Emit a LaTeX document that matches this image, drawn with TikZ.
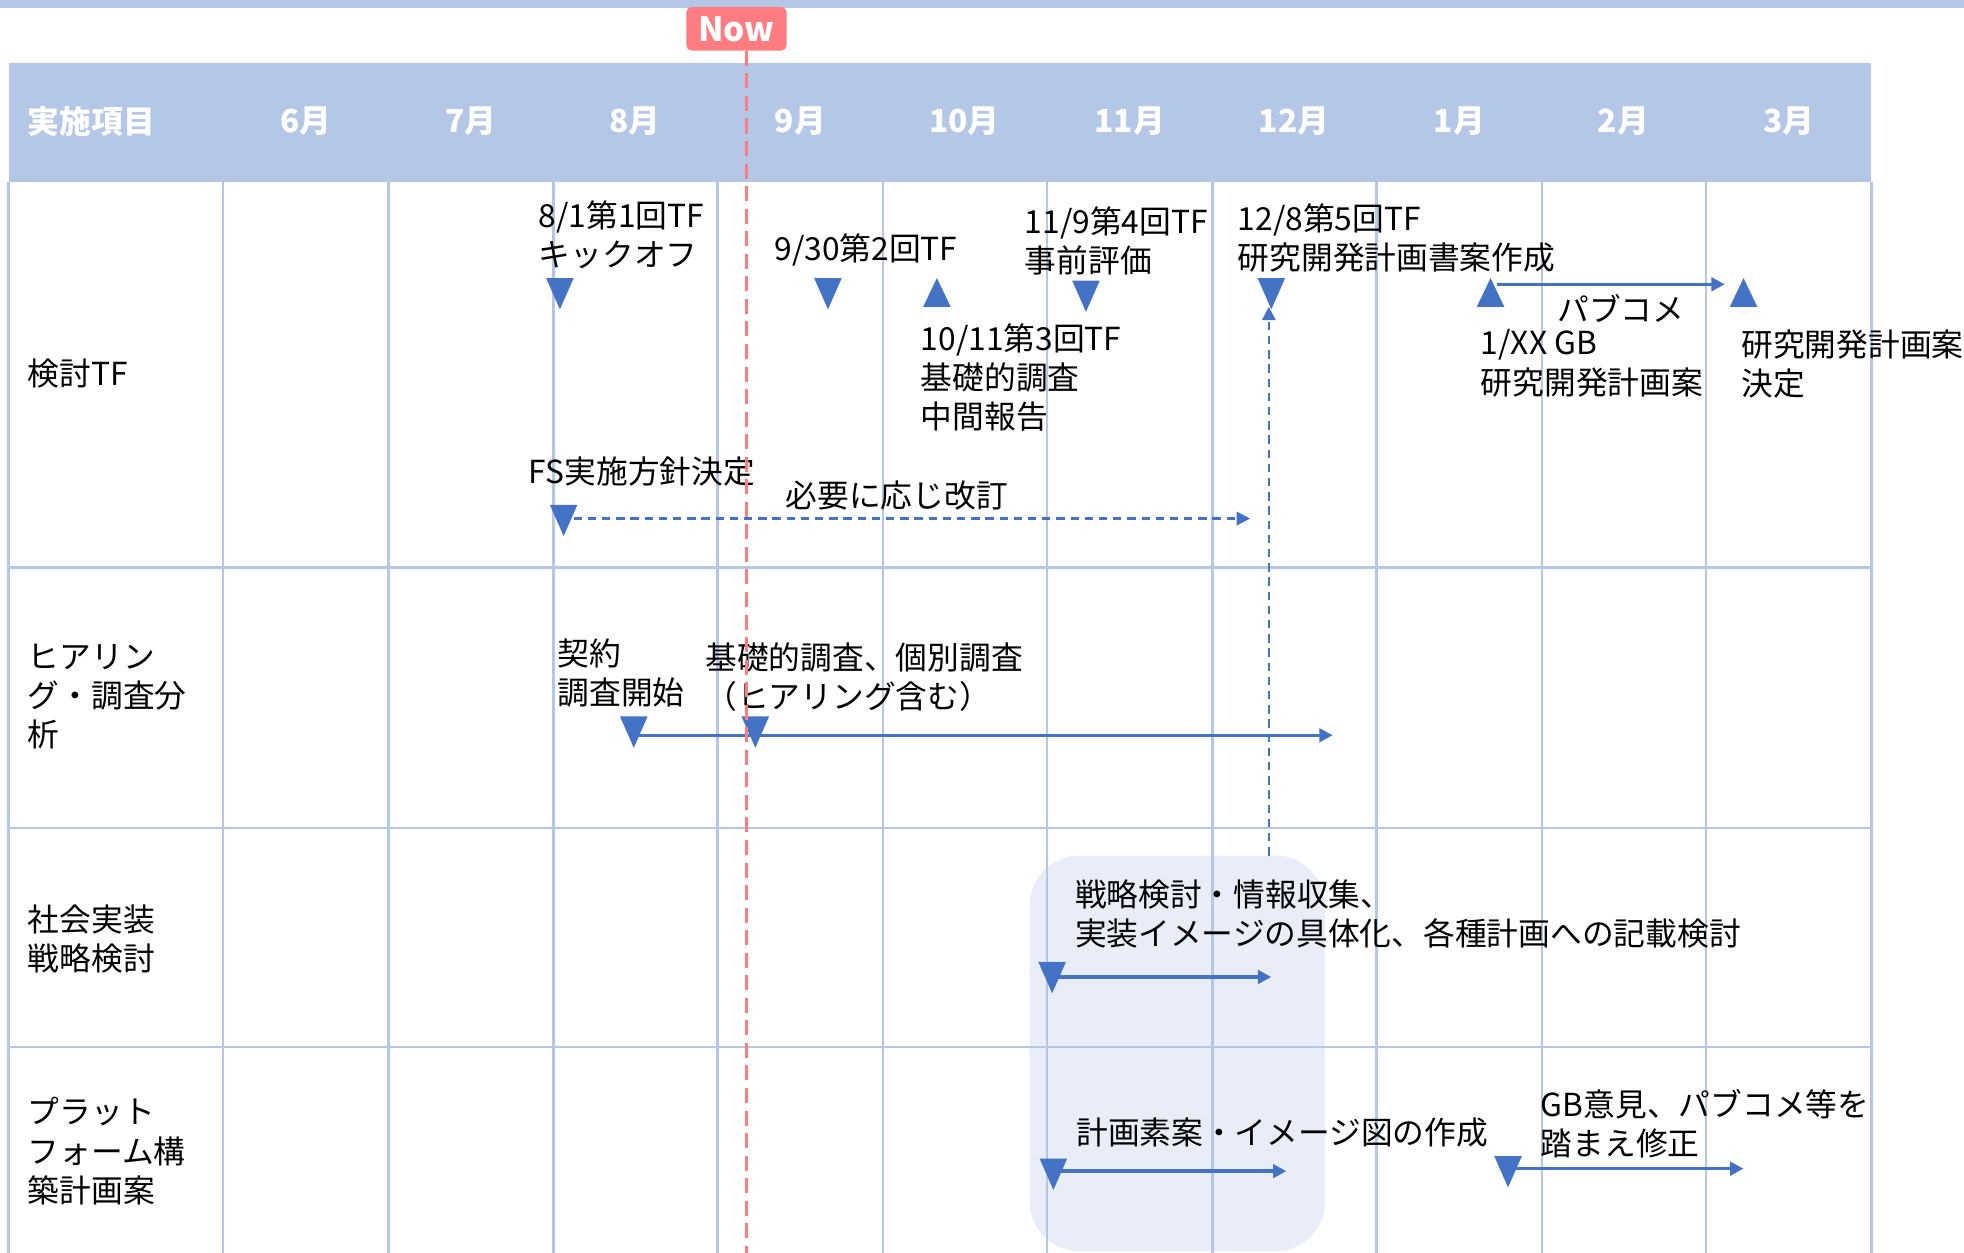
\documentclass[tikz,border=0pt]{standalone}
\usepackage{fontspec}
\setmainfont{Noto Sans CJK JP}
\usetikzlibrary{arrows.meta}
\definecolor{hdr}{HTML}{B4C7E7}
\definecolor{gridc}{HTML}{B4C7E7}
\definecolor{tri}{HTML}{4472C4}
\definecolor{nowred}{HTML}{FF7C80}
\definecolor{hl}{HTML}{E9EDF8}
\newcommand\dtri[3]{\fill[tri] (#2-11,#3) -- (#2+11,#3) -- (#2,#3+25) -- cycle;}
\newcommand\utri[3]{\fill[tri] (#2-11,#3+23) -- (#2+11,#3+23) -- (#2,#3) -- cycle;}
\begin{document}
\begin{tikzpicture}[x=0.75pt,y=-0.75pt,
  lbl/.style={inner sep=0pt,anchor=north west,align=left,font=\fontsize{19}{23.4}\selectfont},
  hd/.style={inner sep=0pt,text=white,font=\fontsize{19}{22.8}\selectfont\bfseries},
  gridline/.style={draw=gridc,line width=1.6pt},
  solidarr/.style={draw=tri,line width=2pt,-{Triangle[length=8pt,width=8pt]}},
  dasharr/.style={draw=tri,line width=1.5pt,dash pattern=on 5pt off 3.5pt,-{Triangle[length=8pt,width=8pt]}},
  nowline/.style={draw=nowred,line width=2.2pt,dash pattern=on 9pt off 4.5pt}]
\useasboundingbox (0,0) rectangle (1568,1000);
% top band
\fill[hdr] (0,0) rectangle (1568,6);
% highlight
\fill[hl,rounded corners=30pt] (822,683) rectangle (1058,999);
% header
\fill[hdr] (7,50) rectangle (1494,145);
% grid
\foreach \x in {7,178,310,442,573,705,836,968,1099,1231,1362,1494}
  \draw[gridline] (\x,145) -- (\x,1000);
\foreach \y in {453,661,836}
  \draw[gridline] (7,\y) -- (1494,\y);
% header text
\node[hd,anchor=west] (hitem) at (22,97) {実施項目};
\foreach \m/\x in {6月/244,7月/376,8月/507,9月/639,10月/770,11月/902,12月/1033,1月/1165,2月/1296,3月/1428}
  \node[hd] (m\x) at (\x,97) {\m};
% left labels
\node[lbl] (r1) at (22,286) {検討TF};
\node[lbl] (r2) at (22,514) {ヒアリン\\グ・調査分\\析};
\node[lbl] (r3) at (22,722) {社会実装\\戦略検討};
\node[lbl] (r4) at (22,876) {プラット\\フォーム構\\築計画案};
% row 1 labels
\node[lbl] (l1) at (430,160) {8/1第1回TF\\キックオフ};
\node[lbl] (l2) at (618,186) {9/30第2回TF};
\node[lbl] (l3) at (735,258) {10/11第3回TF\\基礎的調査\\中間報告};
\node[lbl] (l4) at (818,165) {11/9第4回TF\\事前評価};
\node[lbl] (l5) at (988,162) {12/8第5回TF\\研究開発計画書案作成};
\node[lbl] (l6) at (1243,235) {パブコメ};
\node[lbl] (l7) at (1182,263) {1/XX GB\\研究開発計画案};
\node[lbl] (l8) at (1390,263) {研究開発計画案\\決定};
\node[lbl] (l9) at (422,364) {FS実施方針決定};
\node[lbl] (l10) at (627,384) {必要に応じ改訂};
% row 2 labels
\node[lbl] (l11) at (445,510) {契約\\調査開始};
\node[lbl] (l12) at (563,513) {基礎的調査、個別調査\\（ヒアリング含む）};
% row 3
\node[lbl] (l13) at (858,702) {戦略検討・情報収集、\\実装イメージの具体化、各種計画への記載検討};
% row 4
\node[lbl] (l14) at (859,892) {計画素案・イメージ図の作成};
\node[lbl] (l15) at (1230,869) {GB意見、パブコメ等を\\踏まえ修正};
% triangles
\dtri{t1}{447}{222}
\dtri{t2}{661}{222}
\utri{t3}{748}{222}
\dtri{t4}{867}{224}
\dtri{t5}{1015}{222}
\utri{t6}{1190}{222}
\utri{t7}{1392}{222}
\dtri{tfs}{450}{403}
\dtri{h1}{506}{572}
\dtri{h2}{603}{572}
\dtri{s1}{840}{768}
\dtri{p1}{841}{925}
\dtri{p2}{1204}{923}
% arrow endpoints
\coordinate (pcA) at (1195,227); \coordinate (pcB) at (1377,227);
\coordinate (fsA) at (458,414); \coordinate (fsB) at (998,414);
\coordinate (hA) at (508,587); \coordinate (hB) at (1064,587);
\coordinate (sA) at (842,780); \coordinate (sB) at (1015,780);
\coordinate (pA) at (842,935); \coordinate (pB) at (1027,935);
\coordinate (qA) at (1208,933); \coordinate (qB) at (1392,933);
\coordinate (vA) at (1013,683); \coordinate (vB) at (1013,245);
\draw[solidarr] (pcA) -- (pcB);
\draw[dasharr] (fsA) -- (fsB);
\draw[solidarr] (hA) -- (hB);
\draw[solidarr] (sA) -- (sB);
\draw[solidarr] (pA) -- (pB);
\draw[solidarr] (qA) -- (qB);
\draw[dasharr] (vA) -- (vB);
% now marker
\node[fill=nowred,rounded corners=3pt,inner sep=0pt,minimum width=60pt,minimum height=26pt,text=white,font=\fontsize{20}{22}\selectfont\bfseries] (now) at (588,23) {Now};
\coordinate (nowend) at (596,1000);
\draw[nowline] (now.south -| nowend) -- (nowend);
\end{tikzpicture}
\end{document}
